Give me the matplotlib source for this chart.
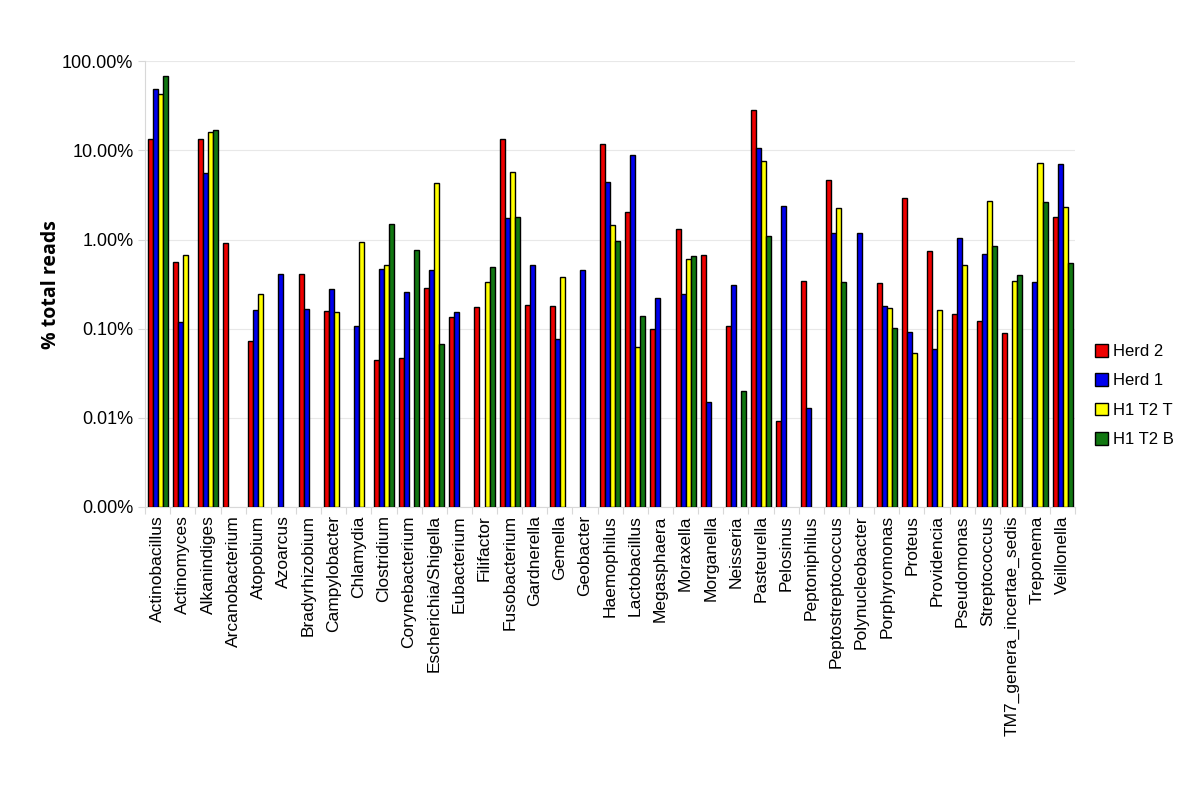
import numpy as np
import matplotlib.pyplot as plt
from matplotlib.ticker import FixedLocator, NullFormatter

genera = ["Actinobacillus", "Actinomyces", "Alkanindiges", "Arcanobacterium", "Atopobium",
          "Azoarcus", "Bradyrhizobium", "Campylobacter", "Chlamydia", "Clostridium",
          "Corynebacterium", "Escherichia/Shigella", "Eubacterium", "Filifactor",
          "Fusobacterium", "Gardnerella", "Gemella", "Geobacter", "Haemophilus",
          "Lactobacillus", "Megasphaera", "Moraxella", "Morganella", "Neisseria",
          "Pasteurella", "Pelosinus", "Peptoniphilus", "Peptostreptococcus",
          "Polynucleobacter", "Porphyromonas", "Proteus", "Providencia", "Pseudomonas",
          "Streptococcus", "TM7_genera_incertae_sedis", "Treponema", "Veillonella"]

# % total reads, None = not detected
herd2 = [13.3, 0.566, 13.5, 0.918, 0.072, None, 0.411, 0.159, None, 0.0445,
         0.0472, 0.284, 0.134, 0.177, 13.3, 0.186, 0.181, None, 11.7,
         2.05, 0.100, 1.32, 0.667, 0.108, 28.1, 0.0092, 0.343, 4.64,
         None, 0.326, 2.89, 0.752, 0.146, 0.121, 0.0887, None, 1.77]
herd1 = [48.4, 0.119, 5.6, None, 0.162, 0.411, 0.166, 0.279, 0.107, 0.465,
         0.26, 0.452, 0.154, None, 1.75, 0.52, 0.0773, 0.456, 4.37,
         8.86, 0.223, 0.245, 0.015, 0.307, 10.7, 2.35, 0.0129, 1.2,
         1.19, 0.18, 0.091, 0.059, 1.05, 0.684, None, 0.334, 7.02]
h1t2t = [42.6, 0.678, 16.1, None, 0.243, None, None, 0.152, 0.95, 0.515,
         None, 4.33, None, 0.332, 5.76, None, 0.378, None, 1.45,
         0.0628, None, 0.607, None, None, 7.66, None, None, 2.27,
         None, 0.172, 0.0537, 0.162, 0.52, 2.74, 0.343, 7.27, 2.33]
h1t2b = [68.4, None, 16.8, None, None, None, None, None, None, 1.51,
         0.758, 0.0673, None, 0.489, 1.78, None, None, None, 0.966,
         0.138, None, 0.65, None, 0.0201, 1.09, None, None, 0.337,
         None, 0.1016, None, None, None, 0.84, 0.401, 2.65, 0.542]

series = [("Herd 2", herd2, "#ee0000"), ("Herd 1", herd1, "#0000ee"),
          ("H1 T2 T", h1t2t, "#ffff00"), ("H1 T2 B", h1t2b, "#117711")]

plt.rcParams['font.family'] = ['Liberation Sans', 'DejaVu Sans']

fig = plt.figure(figsize=(12, 7.86), dpi=100)
ax = fig.add_axes([0.121, 0.355, 0.775, 0.567])

bottom = 0.001
x = np.arange(len(genera))
w = 0.2
for i, (name, vals, col) in enumerate(series):
    h = [np.nan if v is None else v - bottom for v in vals]
    ax.bar(x + (i - 1.5) * w, h, w, bottom=bottom, color=col, edgecolor='black',
           linewidth=1.0, label=name, zorder=3)

ax.set_yscale('log')
ax.set_ylim(0.001, 100)
ax.set_xlim(-0.5, len(genera) - 0.5)
yt = [0.001, 0.01, 0.1, 1, 10, 100]
ax.yaxis.set_major_locator(FixedLocator(yt))
ax.yaxis.set_minor_formatter(NullFormatter())
ax.yaxis.set_minor_locator(FixedLocator([]))
ax.set_yticklabels(["0.00%", "0.01%", "0.10%", "1.00%", "10.00%", "100.00%"], fontsize=13)
ax.tick_params(axis='y', length=5, color='#d8d8d8', width=0.8)
ax.grid(axis='y', color='#e8e8e8', linewidth=0.8, zorder=0)

ax.set_xticks(x)
ax.set_xticklabels(genera, rotation=90, fontsize=12.5)
ax.set_xticks(np.arange(len(genera) + 1) - 0.5, minor=True)
ax.tick_params(axis='x', which='major', length=0, pad=6)
ax.tick_params(axis='x', which='minor', length=5, color='#d8d8d8', width=0.8)

for s in ['top', 'right']:
    ax.spines[s].set_visible(False)
for s in ['left', 'bottom']:
    ax.spines[s].set_color('#d8d8d8')
    ax.spines[s].set_linewidth(0.8)

ax.set_ylabel("% total reads", fontsize=14, fontweight='bold', family='Open Sans', labelpad=1)

ax.legend(loc='center left', bbox_to_anchor=(1.005, 0.25), frameon=False, fontsize=12,
          handlelength=0.8, handleheight=0.8, handletextpad=0.3, labelspacing=0.85)

fig.savefig("out.png", dpi=100)
